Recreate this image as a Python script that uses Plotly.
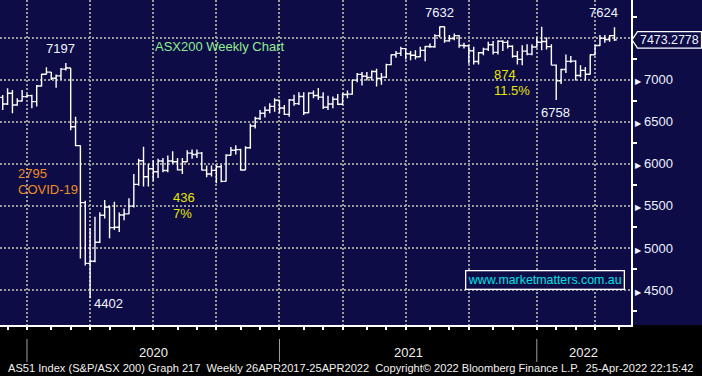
import pandas as pd
import plotly.graph_objects as go

# ---------------- data (weekly bars, week ending Friday) ----------------
weeks = pd.date_range("2019-11-22", "2022-04-22", freq="W-FRI")

opens = [
    6790, 6711, 6838, 6699, 6747, 6798,
    # 2020
    6810, 6739, 6925, 7064, 7090,
    7017, 7045, 7125, 7139,
    6441, 6216, 5539, 4817,
    4842, 5067, 5388, 5487,
    5242, 5245, 5391, 5405, 5497,
    5755, 6036, 5847, 5942,
    5905, 6033, 5920, 6033, 6024,
    5928, 6025, 6127, 6111,
    6127, 5925, 5879, 5922,
    5965, 5791, 6102, 6161, 6169,
    5927, 6190, 6450, 6539,
    6601, 6636, 6683, 6756,
    # 2021
    6664, 6587, 6758, 6715, 6800,
    6607, 6840, 6811, 6793,
    6673, 6711, 6767, 6708,
    6824, 6828, 6995, 7063, 7041,
    7025, 7097, 7014, 7030,
    7179, 7296, 7312, 7369,
    7308, 7290, 7273, 7348, 7394,
    7392, 7523, 7629, 7461,
    7489, 7523, 7406, 7403,
    7343, 7216, 7320, 7363, 7415,
    7324, 7457, 7443, 7397,
    7279, 7241, 7339, 7304, 7388,
    # 2022
    7444, 7453, 7393, 7173,
    6988, 7121, 7217, 7221,
    7049, 7111, 7064, 7296,
    7406, 7493, 7478, 7523,
]

highs = [
    6818, 6898, 6878, 6778, 6878, 6830,
    6820, 6937, 7070, 7147, 7090,
    7060, 7140, 7197, 7140,
    6560, 6220, 5560, 5233,
    5372, 5424, 5570, 5500,
    5550, 5420, 5470, 5590, 5880,
    6060, 6204, 6000, 6040,
    6060, 6070, 6100, 6150, 6070,
    6070, 6160, 6170, 6170,
    6140, 5980, 5980, 5990,
    5990, 6115, 6200, 6220, 6180,
    6210, 6475, 6560, 6640,
    6680, 6720, 6780, 6760,
    6700, 6770, 6820, 6850, 6850,
    6850, 6870, 6900, 6850,
    6810, 6800, 6830, 6840,
    6870, 7000, 7080, 7090, 7090,
    7110, 7130, 7080, 7190,
    7300, 7340, 7390, 7370,
    7340, 7350, 7390, 7400, 7430,
    7540, 7632, 7632, 7530,
    7550, 7530, 7440, 7410,
    7390, 7330, 7380, 7450, 7460,
    7470, 7470, 7470, 7410,
    7340, 7410, 7420, 7420, 7500,
    7628, 7500, 7420, 7180,
    7130, 7300, 7280, 7230,
    7170, 7150, 7300, 7410,
    7530, 7530, 7530, 7624,
]

lows = [
    6640, 6700, 6600, 6690, 6740, 6790,
    6660, 6680, 6920, 7060, 6997,
    6905, 7000, 7110, 6400,
    6210, 4874, 4790, 4402,
    4830, 5060, 5350, 5115,
    5213, 5190, 5330, 5400, 5480,
    5740, 5729, 5730, 5800,
    5830, 5900, 5900, 6000, 5920,
    5880, 6020, 6060, 6070,
    5920, 5840, 5850, 5770,
    5780, 5790, 6100, 6110, 5920,
    5925, 6180, 6420, 6520,
    6550, 6600, 6620, 6600,
    6580, 6560, 6690, 6700, 6580,
    6600, 6780, 6760, 6650,
    6640, 6660, 6700, 6700,
    6780, 6820, 6970, 6930, 6990,
    6990, 6920, 6940, 7020,
    7170, 7260, 7280, 7240,
    7230, 7240, 7270, 7220, 7380,
    7380, 7500, 7440, 7450,
    7470, 7380, 7370, 7190,
    7180, 7180, 7290, 7340, 7300,
    7300, 7340, 7370, 7260,
    7180, 7170, 7290, 7290, 7380,
    7350, 7360, 7170, 6758,
    6950, 7080, 7200, 6990,
    7030, 6990, 7060, 7290,
    7400, 7440, 7450, 7460,
]

closes = [
    6711, 6838, 6699, 6747, 6798, 6810,
    6739, 6925, 7064, 7090, 7017,
    7045, 7125, 7139, 6441,
    6216, 5539, 4817, 4842,
    5067, 5388, 5487, 5242,
    5245, 5391, 5405, 5497, 5755,
    6036, 5847, 5942, 5905,
    6033, 5920, 6033, 6024, 5928,
    6025, 6127, 6111, 6127,
    5925, 5879, 5922, 5965,
    5791, 6102, 6161, 6169, 5927,
    6190, 6450, 6539, 6601,
    6636, 6683, 6756, 6664,
    6587, 6758, 6715, 6800, 6607,
    6840, 6811, 6793, 6673,
    6711, 6767, 6708, 6824,
    6828, 6995, 7063, 7041, 7025,
    7097, 7014, 7030, 7179,
    7296, 7312, 7369, 7308,
    7290, 7273, 7348, 7394, 7392,
    7523, 7629, 7461, 7489,
    7523, 7406, 7403, 7343,
    7216, 7320, 7363, 7415, 7324,
    7457, 7443, 7397, 7279,
    7241, 7339, 7304, 7388, 7444,
    7453, 7393, 7173, 6988,
    7121, 7217, 7221, 7049,
    7111, 7064, 7296, 7406,
    7493, 7478, 7523, 7473.2778,
]

y_ticks = [4500, 5000, 5500, 6000, 6500, 7000, 7500]
y_tick_labels = ["4500", "5000", "5500", "6000", "6500", "7000", ""]  # 7500 hidden under price tag
y_minor = [4250, 4750, 5250, 5750, 6250, 6750, 7250, 7750]
year_labels = ["2020", "2021", "2022"]
last_price = closes[-1]

# ---------------- styling ----------------
W, H = 702, 376
PLOT_W, PLOT_H = 631, 325
NAVY = "#0d0c47"
GRID = "#9a9a9a"
TXT = "#eef2ff"
FONT = "Liberation Sans, Arial, sans-serif"

def px(xp):
    return xp / PLOT_W

def py(yp):
    return (PLOT_H - yp) / PLOT_H

# calendar helpers (axis ticks at the last weekly bar of each month)
all_weeks = pd.date_range("2019-11-01", "2022-05-31", freq="W-FRI")
wk = pd.Series(all_weeks, index=all_weeks)
month_last = wk.groupby([wk.index.year, wk.index.month]).max().tolist()
quarter_last = [d for d in month_last if d.month in (3, 6, 9, 12)]
year_last = [d for d in month_last if d.month == 12]
x_range = [pd.Timestamp("2019-11-18 02:00"), pd.Timestamp("2022-05-15 19:00")]

fig = go.Figure()
fig.add_trace(go.Ohlc(
    x=weeks, open=opens, high=highs, low=lows, close=closes,
    increasing=dict(line=dict(color="white", width=1.4)),
    decreasing=dict(line=dict(color="white", width=1.4)),
    tickwidth=0.5, hoverinfo="skip", showlegend=False,
))

ticktext = [(f"<span style='font-size:8px'>\u25B6</span>\u2009{t}" if t else "")
            for t in y_tick_labels]

fig.update_layout(
    width=W, height=H,
    margin=dict(l=0, r=W - PLOT_W, t=0, b=H - PLOT_H, pad=0),
    paper_bgcolor=NAVY, plot_bgcolor=NAVY, showlegend=False,
    xaxis=dict(
        type="date", range=x_range, rangeslider=dict(visible=False),
        tickmode="array", tickvals=quarter_last, showticklabels=False,
        showgrid=True, gridcolor=GRID, griddash="2px,2px", gridwidth=2,
        ticks="outside", ticklen=3, tickwidth=1.5, tickcolor="white",
        showline=True, linecolor="white", linewidth=1.5, zeroline=False,
        minor=dict(tickmode="array", tickvals=month_last, ticks="outside",
                   ticklen=3, tickwidth=1.5, tickcolor="white", showgrid=False),
        fixedrange=True,
    ),
    yaxis=dict(
        side="right", range=[4084, 7947],
        tickmode="array", tickvals=y_ticks, ticktext=ticktext,
        showgrid=True, gridcolor=GRID, griddash="2px,2px", gridwidth=2,
        ticks="", showline=True, linecolor="white", linewidth=1.5,
        zeroline=False,
        tickfont=dict(family=FONT, size=13, color=TXT),
        minor=dict(tickmode="array", tickvals=y_minor, ticks="outside",
                   ticklen=4, tickwidth=1.5, tickcolor="white", showgrid=False),
        fixedrange=True,
    ),
)

shapes = [
    # black band below the plotting area
    dict(type="rect", xref="paper", yref="paper", x0=0, x1=W / PLOT_W,
         y0=-(H - PLOT_H) / PLOT_H, y1=0, fillcolor="black",
         line=dict(width=0), layer="below"),
]
for d in year_last:
    shapes.append(dict(type="line", xref="x", yref="paper", x0=d, x1=d,
                       y0=py(339), y1=py(362),
                       line=dict(color="#a0a0a0", width=1)))
# last-price tag
half = 8.3 / (PLOT_H / (7947 - 4084))
shapes.append(dict(
    type="path", xref="paper", yref="y",
    path=(f"M {px(632)},{last_price} L {px(637.5)},{last_price + half} "
          f"L {px(701.5)},{last_price + half} L {px(701.5)},{last_price - half} "
          f"L {px(637.5)},{last_price - half} Z"),
    fillcolor=NAVY, line=dict(color="white", width=1.2), layer="above"))
fig.update_layout(shapes=shapes)

ann = []
def label(text, xp, yp, color, size=13, anchor="center", **kw):
    ann.append(dict(text=text, xref="paper", yref="paper", x=px(xp), y=py(yp),
                    xanchor=anchor, yanchor="middle", showarrow=False,
                    font=dict(family=FONT, size=size, color=color), **kw))

WHITE = "#f2f5ff"
YEL = "#e6e600"
ORG = "#f08c1e"
label("7197", 60.5, 48.5, WHITE)
label("ASX200 Weekly Chart", 153, 46.5, "#90ee90", anchor="left")
label("7632", 439, 12, WHITE)
label("7624", 603.5, 12.5, WHITE)
label("874", 492, 75, YEL, anchor="left")
label("11.5%", 492, 90.5, YEL, anchor="left")
label("6758", 555, 112, WHITE)
label("2795", 16, 173, ORG, anchor="left")
label("COVID-19", 16, 189, ORG, anchor="left")
label("436", 171, 197, YEL, anchor="left")
label("7%", 171, 213, YEL, anchor="left")
label("4402", 108, 303, WHITE)
label("www.marketmatters.com.au", 545, 279.5, "#00e0e6", size=12.4,
      bordercolor="white", borderwidth=1.3, borderpad=1.5, bgcolor=NAVY)
label(f"{last_price:.4f}", 669.5, 40, WHITE, size=12.4)

# year labels between separators
bounds = year_last + [x_range[1]]
for i, yl in enumerate(year_labels):
    a, b = bounds[i], bounds[i + 1]
    mid = a + (b - a) / 2
    ann.append(dict(text=yl, xref="x", yref="paper", x=mid, y=py(352),
                    xanchor="center", yanchor="middle", showarrow=False,
                    font=dict(family=FONT, size=13, color="#f0f0f0")))

NB = "\u00a0"
footer = (f"AS51 Index (S&P/ASX 200) Graph 217{NB}{NB}Weekly 26APR2017-25APR2022"
          f"{NB}{NB}Copyright\u00a9 2022 Bloomberg Finance L.P.{NB}{NB}25-Apr-2022 22:15:42")
ann.append(dict(text=footer, xref="paper", yref="paper", x=px(351), y=py(368.5),
                xanchor="center", yanchor="middle", showarrow=False,
                font=dict(family=FONT, size=11.1, color="#f0f0f0")))
fig.update_layout(annotations=ann)

fig.write_html("out.html", config={"displayModeBar": False},
               post_script="document.body.style.margin='0';")
